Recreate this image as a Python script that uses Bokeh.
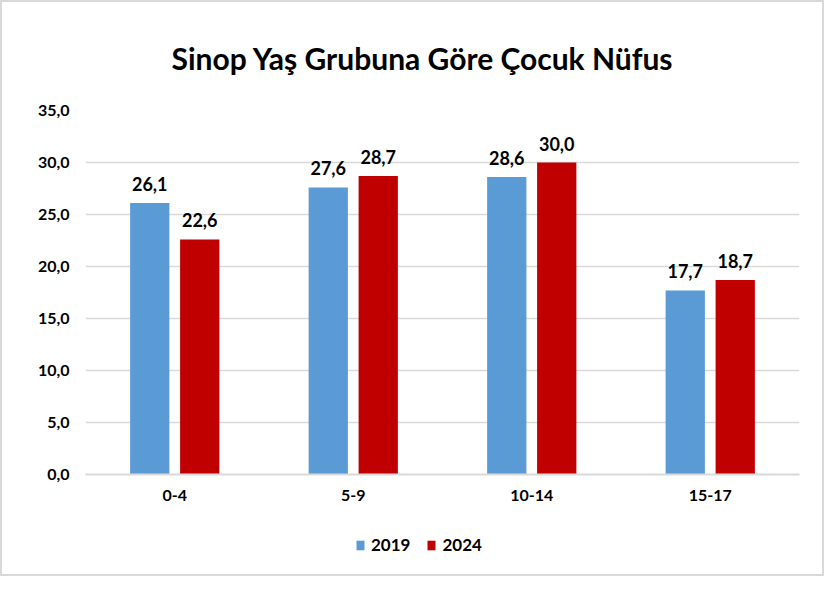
from bokeh.plotting import figure
from bokeh.layouts import column
from bokeh.models import (FactorRange, Range1d, FixedTicker, ColumnDataSource,
                          LabelSet, Legend, LegendItem)
from bokeh.core.properties import value
from bokeh.transform import dodge
from bokeh.embed import file_html
from bokeh.resources import INLINE

title_text = "Sinop Yaş Grubuna Göre Çocuk Nüfus"
categories = ["0-4", "5-9", "10-14", "15-17"]
series_names = ["2019", "2024"]
values_2019 = [26.1, 27.6, 28.6, 17.7]
values_2024 = [22.6, 28.7, 30.0, 18.7]
y_ticks = [0, 5, 10, 15, 20, 25, 30, 35]
y_tick_labels = ["0,0", "5,0", "10,0", "15,0", "20,0", "25,0", "30,0", "35,0"]

BLUE = "#5B9BD5"
RED = "#C00000"
FONT = "Lato"
GRID = "#d9d9d9"

def fmt(v):
    return f"{v:.1f}".replace(".", ",")

src = ColumnDataSource(dict(
    cat=categories,
    v2019=values_2019,
    v2024=values_2024,
    l2019=[fmt(v) for v in values_2019],
    l2024=[fmt(v) for v in values_2024],
))

p = figure(width=820, height=514, output_backend="svg", toolbar_location=None,
           x_range=FactorRange(*categories, range_padding=0),
           y_range=Range1d(0, 35),
           min_border_left=83, min_border_right=23,
           min_border_top=108, min_border_bottom=42)
p.outline_line_color = None
p.background_fill_color = "white"
p.border_fill_color = "white"

r1 = p.vbar(x=dodge("cat", -0.14, range=p.x_range), top="v2019", width=0.22,
            source=src, fill_color=BLUE, line_color=None)
r2 = p.vbar(x=dodge("cat", 0.14, range=p.x_range), top="v2024", width=0.22,
            source=src, fill_color=RED, line_color=None)

for col, off in (("2019", -0.14), ("2024", 0.14)):
    ls = LabelSet(x=dodge("cat", off, range=p.x_range), y="v" + col, text="l" + col,
                  source=src, text_align="center", text_baseline="bottom",
                  y_offset=12, text_font=value(FONT), text_font_style="bold",
                  text_font_size="18px", text_color="black")
    p.add_layout(ls)

# axes
p.yaxis.ticker = FixedTicker(ticks=y_ticks)
p.yaxis.major_label_overrides = {t: l for t, l in zip(y_ticks, y_tick_labels)}
p.yaxis.axis_line_color = None
p.yaxis.major_tick_line_color = None
p.yaxis.minor_tick_line_color = None
p.yaxis.major_label_standoff = 10
p.yaxis.major_label_text_font = FONT
p.yaxis.major_label_text_font_style = "bold"
p.yaxis.major_label_text_font_size = "16px"
p.yaxis.major_label_text_color = "black"

p.xaxis.axis_line_color = GRID
p.xaxis.axis_line_width = 2
p.xaxis.major_tick_line_color = None
p.xaxis.minor_tick_line_color = None
p.xaxis.major_label_standoff = 9
p.xaxis.major_label_text_font = FONT
p.xaxis.major_label_text_font_style = "bold"
p.xaxis.major_label_text_font_size = "16px"
p.xaxis.major_label_text_color = "black"

p.xgrid.grid_line_color = None
p.ygrid.grid_line_color = GRID
p.ygrid.grid_line_width = 1.5

# title
p.title.text = title_text
p.title.align = "left"
p.title.offset = 86
p.title.text_font = FONT
p.title.text_font_style = "bold"
p.title.text_font_size = "30px"
p.title.text_color = "black"
p.title.standoff = 70

# legend in a separate strip below the chart (same data, drawn out of view)
lg = figure(width=820, height=58, output_backend="svg", toolbar_location=None,
            min_border=0, x_range=FactorRange(*categories),
            y_range=Range1d(1000, 1001))
lg.axis.visible = False
lg.grid.visible = False
lg.outline_line_color = None
g1 = lg.vbar(x=dodge("cat", -0.14, range=lg.x_range), top="v2019", width=0.22,
             source=src, fill_color=BLUE, line_color=None)
g2 = lg.vbar(x=dodge("cat", 0.14, range=lg.x_range), top="v2024", width=0.22,
             source=src, fill_color=RED, line_color=None)
legend = Legend(items=[LegendItem(label=series_names[0], renderers=[g1]),
                       LegendItem(label=series_names[1], renderers=[g2])],
                orientation="horizontal", location=(270, 19),
                padding=0, margin=0, spacing=16, label_standoff=6,
                glyph_width=10, glyph_height=12, label_height=20,
                border_line_color=None, background_fill_alpha=0,
                label_text_font=FONT, label_text_font_style="bold",
                label_text_font_size="17px", label_text_color="black")
lg.add_layout(legend)

layout = column(p, lg, spacing=0, styles={"border": "2px solid #d9d9d9"})
open("out.html", "w").write(file_html(layout, INLINE))
